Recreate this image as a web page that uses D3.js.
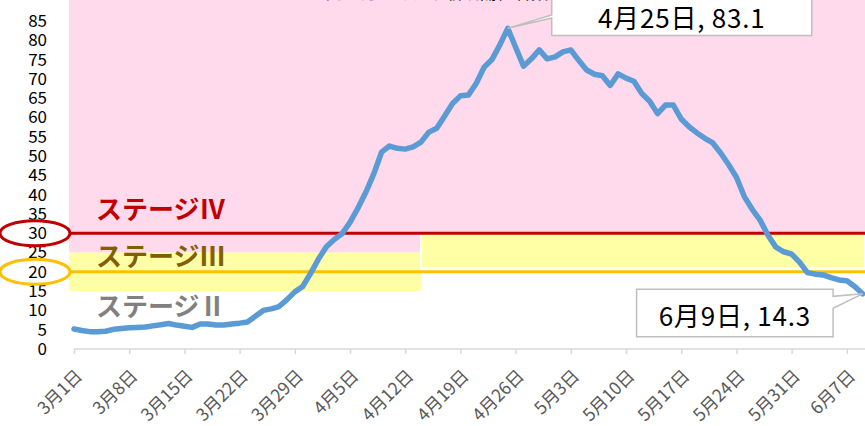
<!DOCTYPE html>
<html>
<head>
<meta charset="utf-8">
<script src="https://cdn.jsdelivr.net/npm/d3@7"></script>
<style>
  body { margin: 0; background: #fff; }
  svg { display: block; font-family: "Noto Sans CJK JP", "Noto Sans", sans-serif; }
</style>
</head>
<body>
<svg width="865" height="426"></svg>
<script>
// daily values from 3/1 to 6/9
const startDate = '2021-03-01'
const values = [
  5.2, 4.8, 4.5, 4.5, 4.6, 5.1, 5.3, 5.5, 5.6, 5.7,
  6.0, 6.3, 6.6, 6.2, 5.9, 5.6, 6.5, 6.5, 6.2, 6.2,
  6.5, 6.7, 7.0, 8.5, 10.0, 10.4, 11.0, 12.8, 14.8, 16.2,
  19.6, 23.3, 26.5, 28.4, 29.9, 32.8, 36.5, 40.6, 45.3, 51.0,
  52.6, 52.0, 51.8, 52.4, 53.6, 56.2, 57.2, 60.4, 63.6, 65.6,
  65.8, 68.8, 73.0, 75.0, 78.8, 83.1, 78.2, 73.3, 75.2, 77.5,
  75.2, 75.7, 77.0, 77.5, 74.8, 72.3, 71.2, 70.8, 68.3, 71.3,
  70.2, 69.4, 66.2, 64.2, 61.0, 63.2, 63.2, 59.6, 57.6, 56.0,
  54.6, 53.4, 50.8, 47.8, 44.5, 39.5, 36.2, 33.4, 29.5, 26.4,
  25.2, 24.6, 22.5, 19.8, 19.4, 19.2, 18.5, 17.9, 17.7, 16.2,
  14.3
]
const tickDates = ['2021-03-01','2021-03-08','2021-03-15','2021-03-22','2021-03-29','2021-04-05',
  '2021-04-12','2021-04-19','2021-04-26','2021-05-03','2021-05-10','2021-05-17','2021-05-24',
  '2021-05-31','2021-06-07']
const tickLabels = ['3月1日','3月8日','3月15日','3月22日','3月29日','4月5日','4月12日','4月19日',
  '4月26日','5月3日','5月10日','5月17日','5月24日','5月31日','6月7日']
const yTicks = [0, 5, 10, 15, 20, 25, 30, 35, 40, 45, 50, 55, 60, 65, 70, 75, 80, 85]

// stage bands: [from date, to date, low, high]
const bandSplit = '2021-04-14'
const pinkBands = [[null, null, 30, 91], [null, bandSplit, 25, 30]]
const yellowBands = [[null, bandSplit, 15, 25], [bandSplit, null, 21, 30]]
const stageLines = [30, 20]
const stageNames = ['ステージⅣ', 'ステージⅢ', 'ステージⅡ']
const stageNameLevels = [36, 24, 11]
const callouts = [
  {date: '2021-04-25', value: 83.1, text: '4月25日, 83.1'},
  {date: '2021-06-09', value: 14.3, text: '6月9日, 14.3'}
]
const title = '人口10万人あたり新規陽性者数'

const parse = d3.utcParse('%Y-%m-%d')
const t0 = parse(startDate)
const series = values.map((v, i) => ({date: d3.utcDay.offset(t0, i), value: v}))

const svg = d3.select('svg')
const W = 865
const plotLeft = 69

const x = d3.scaleUtc()
  .domain([t0, series[series.length - 1].date])
  .range([74, 862.6])
const y = d3.scaleLinear()
  .domain([0, 85])
  .range([349, 21])

const bx = (d, side) => d == null ? (side == 0 ? plotLeft : W) : x(parse(d))

// pink
svg.append('g').selectAll('rect')
  .data(pinkBands).enter().append('rect')
  .attr('x', d => bx(d[0], 0))
  .attr('width', d => bx(d[1], 1) - bx(d[0], 0))
  .attr('y', d => y(d[3]))
  .attr('height', d => y(d[2]) - y(d[3]))
  .attr('fill', '#FFD9EC')

// yellow
svg.append('g').selectAll('rect')
  .data(yellowBands).enter().append('rect')
  .attr('x', d => bx(d[0], 0))
  .attr('width', d => bx(d[1], 1) - bx(d[0], 0))
  .attr('y', d => y(d[3]))
  .attr('height', d => y(d[2]) - y(d[3]))
  .attr('fill', '#FFFFA6')
  .attr('stroke', (d, i) => i == 1 ? '#fff' : 'none')
  .attr('stroke-width', 2)

// title (cut off at the top)
svg.append('text')
  .attr('x', 548).attr('y', -1.5)
  .attr('text-anchor', 'end')
  .attr('font-size', 17)
  .attr('fill', '#000')
  .text(title)

// stage lines
const lineColors = ['#C00000', '#FFC000']
svg.append('g').selectAll('line')
  .data(stageLines).enter().append('line')
  .attr('x1', plotLeft).attr('x2', W)
  .attr('y1', d => y(d)).attr('y2', d => y(d))
  .attr('stroke', (d, i) => lineColors[i])
  .attr('stroke-width', 3)

// stage names
const nameColors = ['#C00000', '#806000', '#808080']
svg.append('g').selectAll('text')
  .data(stageNames).enter().append('text')
  .attr('x', 96)
  .attr('y', (d, i) => y(stageNameLevels[i]))
  .attr('dy', '0.36em')
  .attr('font-size', 26)
  .attr('font-weight', 'bold')
  .attr('fill', (d, i) => nameColors[i])
  .text(d => d)

// x axis
const xAxis = svg.append('g')
  .attr('transform', `translate(0,${y(0)})`)
  .call(d3.axisBottom(x)
    .tickValues(tickDates.map(parse))
    .tickFormat((d, i) => tickLabels[i])
    .tickSize(5)
    .tickSizeOuter(0))
xAxis.select('.domain').attr('stroke', '#D9D9D9').attr('stroke-width', 1.5)
  .attr('d', `M${x.range()[0]},0H${W}`)
xAxis.selectAll('.tick line').attr('stroke', '#D9D9D9').attr('stroke-width', 1.5)
xAxis.selectAll('.tick text')
  .attr('font-family', '"Noto Sans CJK JP", sans-serif')
  .attr('font-size', 17.5)
  .attr('fill', '#595959')
  .attr('text-anchor', 'end')
  .attr('x', 0).attr('y', 0).attr('dy', 0)
  .attr('transform', 'translate(9,28) rotate(-45)')

// y axis labels
const yAxis = svg.append('g')
  .attr('transform', 'translate(47,0)')
  .call(d3.axisLeft(y).tickValues(yTicks).tickSize(0).tickPadding(0))
yAxis.select('.domain').remove()
yAxis.selectAll('.tick text')
  .attr('font-family', '"Noto Sans CJK JP", sans-serif')
  .attr('font-size', 17)
  .attr('fill', '#000')

// circles around 30 and 20
svg.append('g').selectAll('ellipse')
  .data(stageLines).enter().append('ellipse')
  .attr('cx', 35)
  .attr('cy', d => y(d))
  .attr('rx', 35)
  .attr('ry', 12.5)
  .attr('fill', 'none')
  .attr('stroke', (d, i) => i == 0 ? '#C00000' : '#FFC000')
  .attr('stroke-width', 3)

// line
svg.append('path')
  .datum(series)
  .attr('fill', 'none')
  .attr('stroke', '#5B9BD5')
  .attr('stroke-width', 5.5)
  .attr('stroke-linejoin', 'round')
  .attr('stroke-linecap', 'round')
  .attr('d', d3.line()
    .x(d => x(d.date))
    .y(d => y(d.value)))

// callouts
const c1 = callouts[0], c2 = callouts[1]
const p1 = [x(parse(c1.date)), y(c1.value)]
const p2 = [x(parse(c2.date)), y(c2.value)]
const box1 = {l: p1[0] + 44, r: p1[0] + 304, t: -10, b: 35.5}
const box2 = {l: p2[0] - 226, r: p2[0] - 29.5, t: p2[1] - 4.5, b: p2[1] + 43}

svg.append('path')
  .attr('d', `M${box1.l},${box1.t}H${box1.r}V${box1.b}H${box1.l}V18L${p1[0]},${p1[1]}L${box1.l},15Z`)
  .attr('fill', '#fff')
  .attr('stroke', '#BFBFBF')
  .attr('stroke-width', 1.5)
svg.append('text')
  .attr('x', (box1.l + box1.r) / 2).attr('y', 28)
  .attr('text-anchor', 'middle')
  .attr('font-size', 26)
  .attr('letter-spacing', 0.8)
  .attr('fill', '#000')
  .text(c1.text)

svg.append('path')
  .attr('d', `M${box2.l},${box2.t}H${box2.r}V${box2.t + 7}L${p2[0]},${p2[1]}L${box2.r},${box2.t + 19}V${box2.b}H${box2.l}Z`)
  .attr('fill', '#fff')
  .attr('stroke', '#BFBFBF')
  .attr('stroke-width', 1.5)
svg.append('text')
  .attr('x', (box2.l + box2.r) / 2).attr('y', box2.b - 11)
  .attr('text-anchor', 'middle')
  .attr('font-size', 26)
  .attr('letter-spacing', 0.8)
  .attr('fill', '#000')
  .text(c2.text)
</script>
</body>
</html>
